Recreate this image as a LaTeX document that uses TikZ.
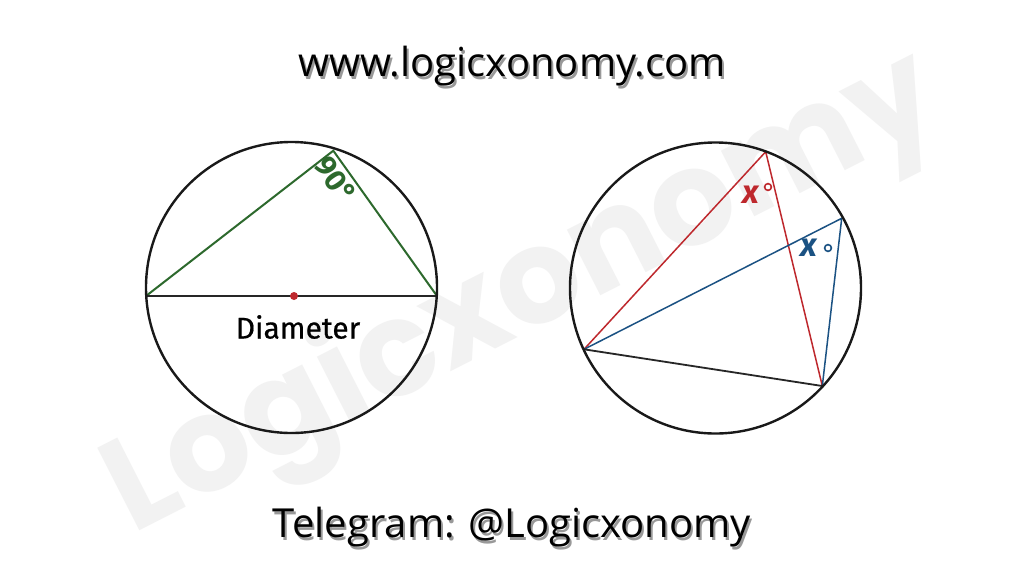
\documentclass[tikz,border=0pt]{standalone}
\usepackage{fontspec}
\setmainfont{Open Sans}
\newfontfamily\wmfont{Poppins}
\newfontfamily\labfont{Fira Sans}
\newfontfamily\diamfont[FakeBold=0.6]{Fira Sans}
\definecolor{mygreen}{HTML}{2D692D}
\definecolor{myred}{HTML}{BE282D}
\definecolor{myblue}{HTML}{1B5283}
\definecolor{wmgray}{HTML}{F2F2F2}
\tikzset{
  rim/.style={line width=2.4pt, black!90},
  gline/.style={line width=2pt, mygreen},
  rline/.style={line width=1.5pt, myred},
  bline/.style={line width=1.5pt, myblue},
  kline/.style={line width=1.8pt, black!85},
  headtxt/.style={font=\fontsize{40}{40}\selectfont, anchor=base, inner sep=0pt},
  shadowtxt/.style={headtxt, text=black!40},
  xlab/.style={font=\labfont\bfseries\itshape\fontsize{33}{33}\selectfont, inner sep=0pt},
}
\begin{document}
\begin{tikzpicture}[x=1pt,y=-1pt]
\useasboundingbox (0,0) rectangle (1024,576);
\fill[white] (0,0) rectangle (1024,576);
% watermark
\node[text=wmgray, rotate=27, font=\wmfont\bfseries\fontsize{132}{132}\selectfont, inner sep=0pt] (wm) at (524,296) {Logicxonomy};
% header / footer
\node[shadowtxt] (wwws) at (514,79.5) {www.logicxonomy.com};
\node[headtxt] (www) at (512,76.7) {www.logicxonomy.com};
\node[shadowtxt] (tgs) at (514,540) {Telegram: @Logicxonomy};
\node[headtxt] (tg) at (512,537) {Telegram: @Logicxonomy};
% left circle
\coordinate (O1) at (291.5,287.5);
\coordinate (P) at (146,296);
\coordinate (Q) at (437,296);
\coordinate (R) at (333.3,150.7);
\draw[gline] (P) -- (R) -- (Q);
\draw[kline] (P) -- (Q);
\draw[rim] (O1) circle (145.5);
\fill[myred] (294,296) circle (4);
\node[text=mygreen, rotate=-55, font=\labfont\bfseries\fontsize{30}{30}\selectfont, inner sep=0pt] (ninety) at (336,180) {90°};
\node[font=\diamfont\fontsize{30}{30}\selectfont, inner sep=0pt] (diam) at (298,327) {Diameter};
% right circle
\coordinate (O2) at (715.5,288);
\coordinate (A) at (584,349.3);
\coordinate (B) at (765.7,151.7);
\coordinate (C) at (841.7,218.3);
\coordinate (D) at (822.3,386);
\draw[rline] (A) -- (B) -- (D);
\draw[bline] (A) -- (C) -- (D);
\draw[kline] (A) -- (D);
\draw[rim] (O2) circle (145.5);
\node[text=myred, xlab] (xr) at (751,195) {x};
\draw[myred, line width=1.6pt] (768,187) circle (3.4);
\node[text=myblue, xlab] (xb) at (809,248) {x};
\draw[myblue, line width=1.6pt] (828,248) circle (3.4);
\end{tikzpicture}
\end{document}
